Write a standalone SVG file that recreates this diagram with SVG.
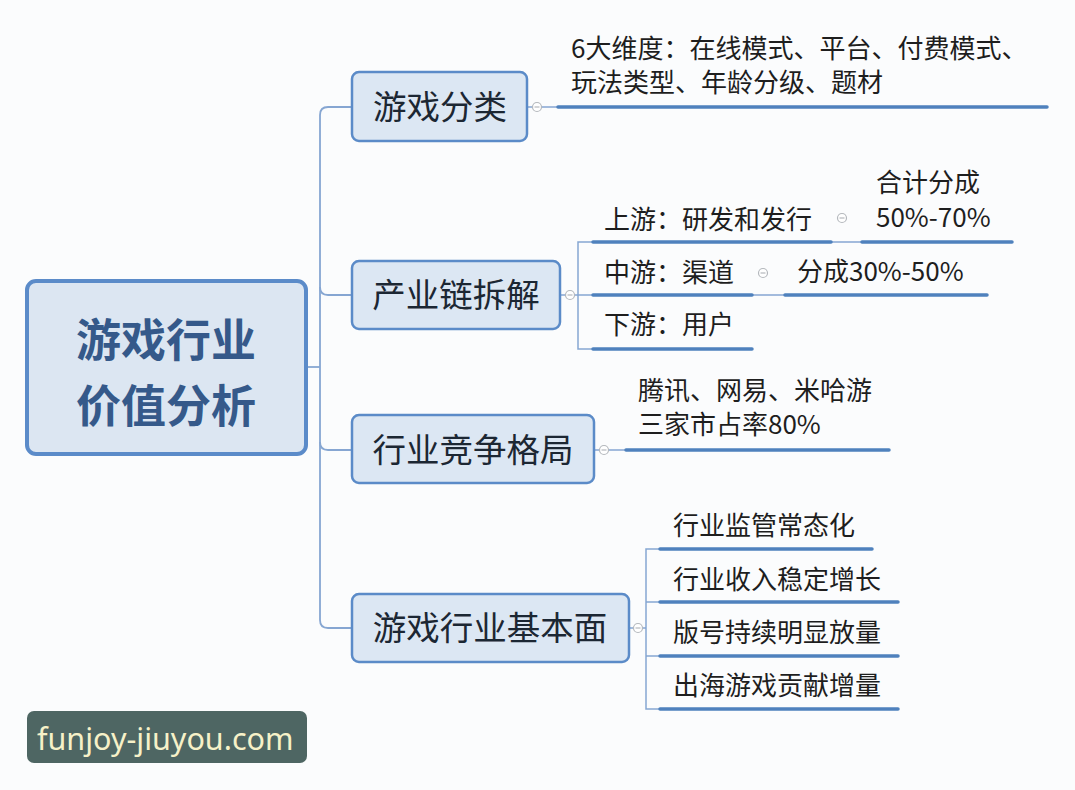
<svg xmlns="http://www.w3.org/2000/svg" width="1075" height="790" viewBox="0 0 1075 790">
<defs>
<style>
.cjk{font-family:"Noto Sans CJK SC","Noto Sans",sans-serif;}
.node rect{fill:#dce7f3;stroke:#5b8bc8;stroke-width:2.5;}
.ntxt{font-size:33.5px;fill:#1c2733;text-anchor:middle;}
.leaf{font-size:26px;fill:#1e1e1e;}
.trunk{fill:none;stroke:#86a6d2;stroke-width:1.8;}
.ul{stroke:#4f81bd;stroke-width:3.5;stroke-linecap:round;}
.thin{stroke:#86a6d2;stroke-width:1.5;fill:none;}
.col{fill:#fff;stroke:#b4b8bd;stroke-width:1.2;}
.minus{stroke:#b4b8bd;stroke-width:1.2;}
.roottxt{font-size:45px;font-weight:bold;fill:#35598a;text-anchor:middle;}
</style>
</defs>
<rect width="1075" height="790" fill="#fbfcfd"/>

<g id="connectors">
  <path class="trunk" d="M352,107 H328 Q320,107 320,115 V620 Q320,628 328,628 H352"/>
  <path class="trunk" d="M320,287 Q320,295 328,295 H352"/>
  <path class="trunk" d="M320,442 Q320,450 328,450 H352"/>
  <path class="trunk" d="M307,367 H320"/>
  <path class="thin" d="M527,107 H558"/>
  <path class="thin" d="M560,295 H578"/>
  <path class="thin" d="M593,242 H578 V349 H593 M578,295 H593"/>
  <path class="thin" d="M831,242 H862"/>
  <path class="thin" d="M752,295 H785"/>
  <path class="thin" d="M594,450 H626"/>
  <path class="thin" d="M629,628 H646"/>
  <path class="thin" d="M660,549 H646 V709 H660 M646,602 H660 M646,656 H660"/>
</g>

<g id="root">
  <rect x="27" y="281" width="279" height="173" rx="9" fill="#dce6f2" stroke="#5b8bc9" stroke-width="4"/>
  <text class="cjk roottxt" x="166" y="357">游戏行业</text>
  <text class="cjk roottxt" x="166" y="423">价值分析</text>
</g>

<g id="n-classify" class="node">
  <rect x="352" y="72" width="175" height="69" rx="7"/>
  <text class="cjk ntxt" x="440" y="119">游戏分类</text>
</g>
<g id="n-chain" class="node">
  <rect x="352" y="261" width="208" height="68" rx="7"/>
  <text class="cjk ntxt" x="456" y="307">产业链拆解</text>
</g>
<g id="n-compete" class="node">
  <rect x="352" y="415" width="242" height="68" rx="7"/>
  <text class="cjk ntxt" x="473" y="462">行业竞争格局</text>
</g>
<g id="n-basic" class="node">
  <rect x="352" y="594" width="277" height="68" rx="7"/>
  <text class="cjk ntxt" x="490" y="640">游戏行业基本面</text>
</g>

<g id="collapse">
  <circle class="col" cx="537" cy="107" r="4.5"/><path class="minus" d="M534.5,107 H539.5"/>
  <circle class="col" cx="570" cy="295" r="4.5"/><path class="minus" d="M567.5,295 H572.5"/>
  <circle class="col" cx="604" cy="450" r="4.5"/><path class="minus" d="M601.5,450 H606.5"/>
  <circle class="col" cx="638" cy="628" r="4.5"/><path class="minus" d="M635.5,628 H640.5"/>
  <circle class="col" cx="842" cy="218" r="4.5"/><path class="minus" d="M839.5,218 H844.5"/>
  <circle class="col" cx="763" cy="273" r="4.5"/><path class="minus" d="M760.5,273 H765.5"/>
</g>

<g id="leaf-dims">
  <text class="cjk leaf" x="571" y="58">6大维度：在线模式、平台、付费模式、</text>
  <text class="cjk leaf" x="571" y="92">玩法类型、年龄分级、题材</text>
  <line class="ul" x1="558" y1="107" x2="1047" y2="107"/>
</g>
<g id="leaf-up">
  <text class="cjk leaf" x="604" y="229">上游：研发和发行</text>
  <line class="ul" x1="593" y1="242" x2="831" y2="242"/>
</g>
<g id="leaf-up-share">
  <text class="cjk leaf" x="876" y="192">合计分成</text>
  <text class="cjk leaf" x="876" y="227">50%-70%</text>
  <line class="ul" x1="862" y1="242" x2="1012" y2="242"/>
</g>
<g id="leaf-mid">
  <text class="cjk leaf" x="604" y="282">中游：渠道</text>
  <line class="ul" x1="593" y1="295" x2="752" y2="295"/>
</g>
<g id="leaf-mid-share">
  <text class="cjk leaf" x="797" y="281">分成30%-50%</text>
  <line class="ul" x1="785" y1="295" x2="987" y2="295"/>
</g>
<g id="leaf-down">
  <text class="cjk leaf" x="604" y="334">下游：用户</text>
  <line class="ul" x1="593" y1="349" x2="752" y2="349"/>
</g>
<g id="leaf-compete">
  <text class="cjk leaf" x="638" y="400">腾讯、网易、米哈游</text>
  <text class="cjk leaf" x="638" y="434">三家市占率80%</text>
  <line class="ul" x1="626" y1="450" x2="889" y2="450"/>
</g>
<g id="leaf-b1">
  <text class="cjk leaf" x="673" y="535">行业监管常态化</text>
  <line class="ul" x1="660" y1="549" x2="872" y2="549"/>
</g>
<g id="leaf-b2">
  <text class="cjk leaf" x="673" y="589">行业收入稳定增长</text>
  <line class="ul" x1="660" y1="602" x2="898" y2="602"/>
</g>
<g id="leaf-b3">
  <text class="cjk leaf" x="673" y="642">版号持续明显放量</text>
  <line class="ul" x1="660" y1="656" x2="898" y2="656"/>
</g>
<g id="leaf-b4">
  <text class="cjk leaf" x="673" y="695">出海游戏贡献增量</text>
  <line class="ul" x1="660" y1="709" x2="898" y2="709"/>
</g>

<g id="watermark">
  <rect x="27" y="711" width="280" height="52" rx="7" fill="#4e6663"/>
  <text x="37" y="750" font-family="Noto Sans, Open Sans, sans-serif" font-size="30.5" fill="#f6f1c8">funjoy-jiuyou.com</text>
</g>
</svg>
